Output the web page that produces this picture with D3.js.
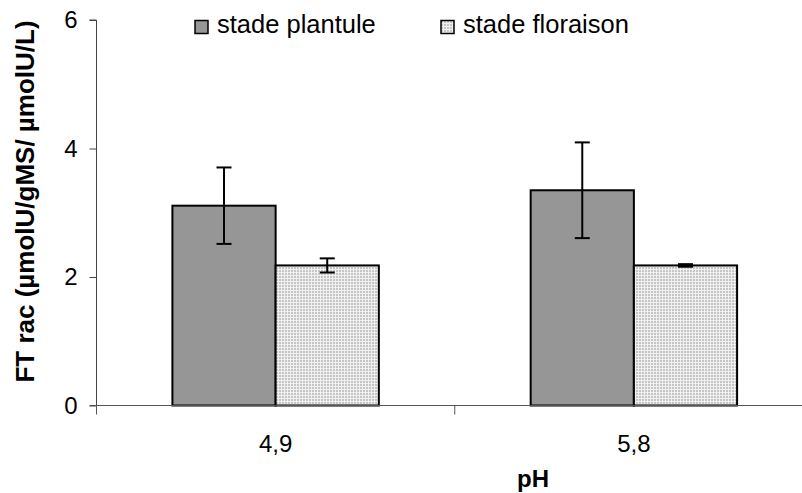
<!DOCTYPE html>
<html>
<head>
<meta charset="utf-8">
<script src="https://cdn.jsdelivr.net/npm/d3@7"></script>
<style>
  html, body { margin: 0; padding: 0; background: #fff; }
  svg { display: block; font-family: "Liberation Sans", Arial, sans-serif; }
</style>
</head>
<body>
<svg id="chart" width="802" height="493"></svg>
<script>
// Categories (pH) and the two growth stages
const categories = ["4,9", "5,8"];
const seriesNames = ["stade plantule", "stade floraison"];

// Mean values and error half-widths per stage
const plantule = [3.11, 3.35];
const plantuleErr = [0.595, 0.745];
const floraison = [2.18, 2.18];
const floraisonErr = [0.11, 0.02];

const yTicks = [0, 2, 4, 6];

const seriesValues = [plantule, floraison];
const seriesErrors = [plantuleErr, floraisonErr];

const svg = d3.select("#chart");

// Pattern for the light dotted fill
const defs = svg.append("defs");
const pat = defs.append("pattern")
  .attr("id", "dots")
  .attr("patternUnits", "userSpaceOnUse")
  .attr("width", 3).attr("height", 3);
pat.append("rect").attr("width", 3).attr("height", 3).attr("fill", "#f0f0f0");
pat.append("rect").attr("width", 2).attr("height", 2).attr("fill", "#c6c6c6");

const fills = ["#969696", "url(#dots)"];

const plot = { left: 96.5, right: 813, top: 20, bottom: 405.5 };

const x0 = d3.scaleBand().domain(categories).range([plot.left, plot.right]).paddingInner(0).paddingOuter(0);
const x1 = d3.scaleBand().domain(seriesNames).range([0, x0.bandwidth()]).paddingInner(0).paddingOuter(0.7355);
const y = d3.scaleLinear().domain([0, 6]).range([plot.bottom, plot.top]);

// Bars
const rows = [];
seriesNames.forEach((s, si) => {
  categories.forEach((c, ci) => {
    rows.push({ s, c, v: seriesValues[si][ci], e: seriesErrors[si][ci], fill: fills[si] });
  });
});

svg.append("g").selectAll("rect").data(rows).join("rect")
  .attr("x", d => x0(d.c) + x1(d.s))
  .attr("y", d => y(d.v))
  .attr("width", x1.bandwidth())
  .attr("height", d => y(0) - y(d.v))
  .attr("fill", d => d.fill)
  .attr("stroke", "#000")
  .attr("stroke-width", 2);

// Error bars
const eb = svg.append("g").attr("stroke", "#000").attr("stroke-width", 2);
rows.forEach(d => {
  const cx = x0(d.c) + x1(d.s) + x1.bandwidth() / 2;
  const cap = 7.5;
  eb.append("line").attr("x1", cx).attr("x2", cx).attr("y1", y(d.v + d.e)).attr("y2", y(d.v - d.e));
  eb.append("line").attr("x1", cx - cap).attr("x2", cx + cap).attr("y1", y(d.v + d.e)).attr("y2", y(d.v + d.e));
  eb.append("line").attr("x1", cx - cap).attr("x2", cx + cap).attr("y1", y(d.v - d.e)).attr("y2", y(d.v - d.e));
});

// Y axis
const yAxis = d3.axisLeft(y).tickValues(yTicks).tickFormat(d3.format("d")).tickSize(7).tickPadding(12);
const gy = svg.append("g").attr("transform", `translate(${plot.left},0)`).call(yAxis);
gy.select(".domain").attr("stroke", "#444").attr("d", `M-7,${plot.top}H0V${plot.bottom}`);
gy.selectAll(".tick line").attr("stroke", "#444");
gy.selectAll(".tick text").attr("font-size", 24).attr("fill", "#000")
  .attr("font-family", "'Liberation Sans', Arial, sans-serif");

// X axis: line at zero with ticks at category boundaries
const gx = svg.append("g");
gx.append("line").attr("x1", plot.left - 7).attr("x2", plot.right)
  .attr("y1", y(0)).attr("y2", y(0)).attr("stroke", "#555");
const bounds = categories.map(c => x0(c)).concat([x0(categories[categories.length - 1]) + x0.bandwidth()]);
gx.selectAll("line.tk").data(bounds).join("line").attr("class", "tk")
  .attr("x1", d => d).attr("x2", d => d)
  .attr("y1", y(0)).attr("y2", y(0) + 9).attr("stroke", "#555");
gx.selectAll("text").data(categories).join("text")
  .attr("x", d => x0(d) + x0.bandwidth() / 2)
  .attr("y", 452)
  .attr("text-anchor", "middle")
  .attr("font-size", 24)
  .text(d => d);

// Axis titles
svg.append("text")
  .attr("x", 533).attr("y", 487)
  .attr("text-anchor", "middle")
  .attr("font-size", 24).attr("font-weight", "bold")
  .text("pH");

svg.append("text")
  .attr("transform", `translate(34,${201.5}) rotate(-90)`)
  .attr("text-anchor", "middle")
  .attr("font-size", 26).attr("font-weight", "bold")
  .text("FT rac (µmolU/gMS/ µmolU/L)");

// Legend
const legendX = [195, 441];
const lg = svg.append("g");
seriesNames.forEach((s, i) => {
  lg.append("rect").attr("x", legendX[i]).attr("y", 20.5).attr("width", 13).attr("height", 13)
    .attr("fill", fills[i]).attr("stroke", "#000").attr("stroke-width", 1.5);
  lg.append("text").attr("x", legendX[i] + 22).attr("y", 33)
    .attr("font-size", 25.5).text(s);
});
</script>
</body>
</html>
